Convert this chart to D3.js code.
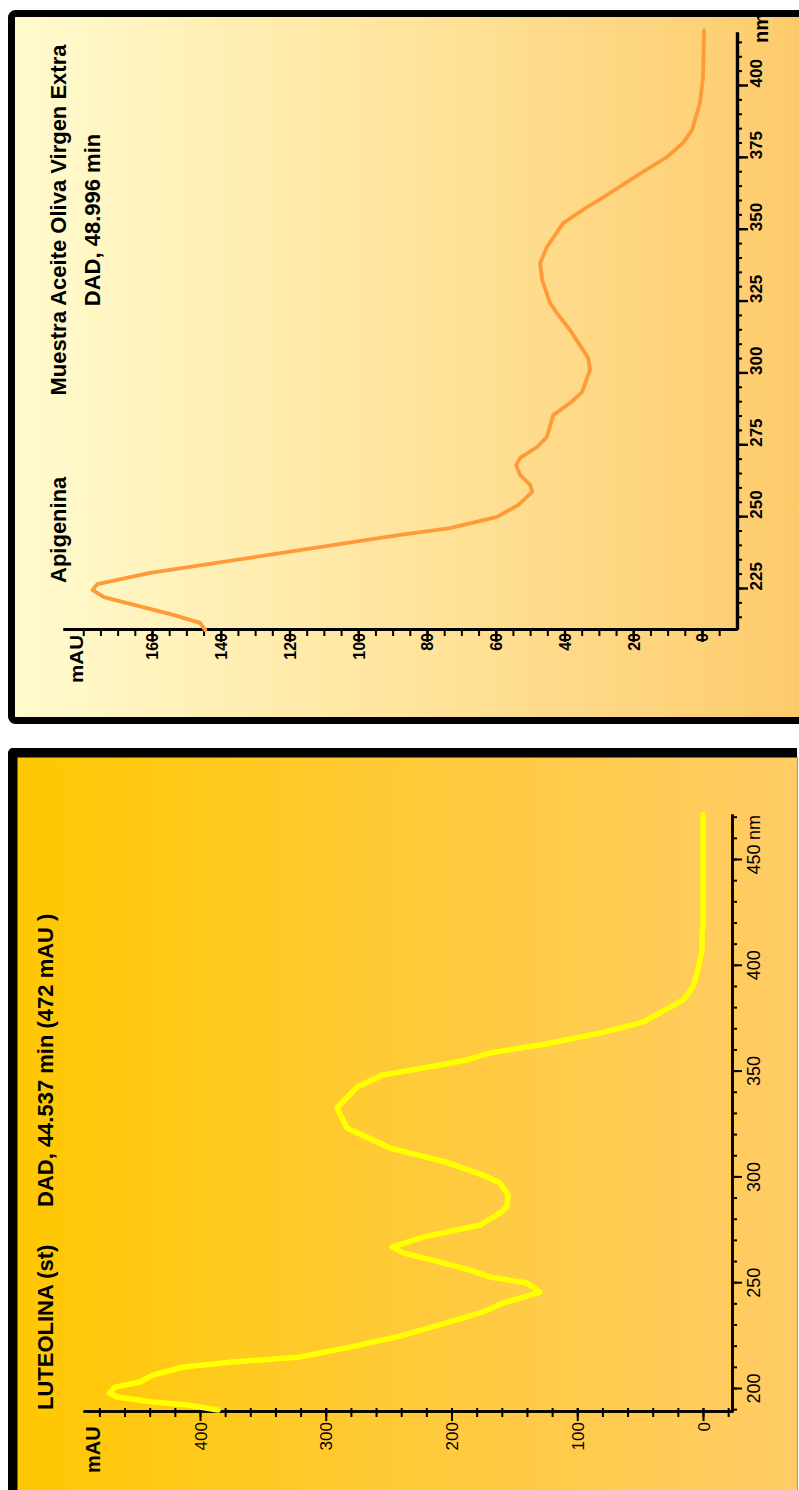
<!DOCTYPE html>
<html><head><meta charset="utf-8">
<script src="https://cdn.jsdelivr.net/npm/d3@7"></script>
<style>body{margin:0;background:#fff}svg{display:block}</style>
</head><body><svg id="c" width="799" height="1490"></svg>
<script>
// ---- Panel 1: Muestra Aceite Oliva Virgen Extra (Apigenina) ----
const apiTitle = "Muestra Aceite Oliva Virgen Extra";
const apiSub = "DAD, 48.996 min";
const apiLabel = "Apigenina";
const apiNm  = [210.7,213.2,216.0,222.2,224.7,226.7,230.6,243.8,246.2,250.1,254.2,258.8,261.2,264.7,268.1,270.6,274.4,277.9,285.5,289.7,293.5,301.2,305.4,315.1,321.0,324.5,332.5,338.4,344.0,352.3,357.9,362.1,370.1,375.3,380.2,384.7,394.1,403.1,419.4];
const apiMau = [144.5,146.0,153.8,174.0,177.3,175.9,160.5,87.8,73.3,59.6,53.5,49.4,50.0,52.9,54.1,52.9,48.0,45.1,43.3,38.4,34.9,32.6,33.1,38.4,42.2,44.2,46.5,47.1,45.1,40.4,33.4,27.6,17.2,10.2,5.5,2.9,0.6,-0.3,-0.6];
const apiNmTicks = [225,250,275,300,325,350,375,400];
const apiMauTicks = [0,20,40,60,80,100,120,140,160];

// ---- Panel 2: LUTEOLINA (st) ----
const lutTitle = "LUTEOLINA (st)";
const lutSub = "DAD, 44.537 min (472 mAU )";
const lutNm  = [190.1,192.4,193.9,196.2,198.1,200.9,203.3,206.6,210.4,212.8,215.1,219.8,225.0,231.7,236.4,240.6,245.8,250.1,252.9,256.2,260.0,264.3,267.1,271.8,277.5,283.2,286.0,291.7,297.4,301.1,307.3,313.9,323.3,332.8,342.7,348.4,353.1,355.5,358.8,362.6,368.2,373.4,383.8,390.0,398.0,407.5,415.5,418.3,471.5];
const lutMau = [385.7,410.3,437.4,466.0,472.0,467.6,447.7,437.4,413.5,373.8,320.5,280.7,241.0,201.2,175.0,159.0,129.6,140.0,169.4,185.3,209.1,238.6,247.3,222.7,177.3,161.4,155.9,155.1,161.4,175.0,205.0,248.9,283.1,291.1,275.1,254.5,209.1,187.7,169.4,129.6,81.9,47.7,15.9,8.0,4.0,0.8,0.8,0.0,0.0];
const lutNmTicks = [200,250,300,350,400,450];
const lutMauTicks = [0,100,200,300,400];

const FONT = "'Liberation Sans', Arial, sans-serif";
const svg = d3.select("#c");
svg.append("rect").attr("width",799).attr("height",1490).attr("fill","#fff");

const defs = svg.append("defs");
function grad(id, stops){
  const g = defs.append("linearGradient").attr("id",id).attr("x1",0).attr("x2",1).attr("y1",0).attr("y2",0);
  stops.forEach(s=>g.append("stop").attr("offset",s[0]).attr("stop-color",s[1]));
}
grad("g1",[[0,"#FFFBCF"],[0.5,"#FFE49C"],[1,"#FDCA6A"]]);
grad("g2",[[0,"#FFC800"],[0.5,"#FFCA38"],[1,"#FFCC66"]]);

// frames
svg.append("rect").attr("x",11.5).attr("y",13.5).attr("width",800).attr("height",707)
  .attr("rx",4).attr("fill","url(#g1)").attr("stroke","#000").attr("stroke-width",7);
svg.append("rect").attr("x",12.75).attr("y",752.75).attr("width",784.5).attr("height",760)
  .attr("fill","url(#g2)");
svg.append("path").attr("d","M797,752.75H12.75V1500").attr("fill","none")
  .attr("stroke","#000").attr("stroke-width",9.5).attr("stroke-linejoin","round");
svg.append("line").attr("x1",797.5).attr("x2",797.5).attr("y1",757).attr("y2",1490).attr("stroke","#999").attr("stroke-width",1);

// ===== Panel 1 =====
const g1 = svg.append("g").attr("transform","translate(0,630) rotate(-90)");
const x1 = d3.scaleLinear().domain([225,400]).range([41,544]);
x1.domain([x1.invert(0), x1.invert(597)]).range([0,597]);
const y1 = d3.scaleLinear().domain([0,160]).range([702,152]);
y1.domain([y1.invert(737), y1.invert(63)]).range([737,63]);

function styleAxis(sel, dw, tw){
  sel.select(".domain").attr("stroke","#000").attr("stroke-width",dw);
  sel.selectAll(".tick line").attr("stroke","#000").attr("stroke-width",tw);
}
// nm axis (minor + major)
const a1m = g1.append("g").attr("transform","translate(0,737)")
  .call(d3.axisBottom(x1).tickValues(d3.range(215,420,5)).tickSize(5).tickSizeOuter(0).tickFormat(""));
styleAxis(a1m,3.2,2);
const a1M = g1.append("g").attr("transform","translate(0,737)")
  .call(d3.axisBottom(x1).tickValues(apiNmTicks).tickSize(11).tickSizeOuter(0).tickFormat(d3.format("d")));
styleAxis(a1M,3.2,2.4);
a1M.selectAll(".tick text").attr("text-anchor","start").attr("x",-2).attr("y",25).attr("dy","0")
  .attr("font-family",FONT).attr("font-size",17).attr("font-weight","bold").attr("fill","#000");
// mAU axis
const a2m = g1.append("g")
  .call(d3.axisLeft(y1).tickValues(d3.range(-5,185,5)).tickSize(6).tickSizeOuter(0).tickFormat(""));
styleAxis(a2m,3.2,2);
const a2M = g1.append("g")
  .call(d3.axisLeft(y1).tickValues(apiMauTicks).tickSize(12).tickSizeOuter(0).tickFormat(d3.format("d")));
styleAxis(a2M,3.2,2.4);
a2M.selectAll(".tick text").attr("text-anchor","end").attr("x",-3).attr("dy","0.36em")
  .attr("font-family",FONT).attr("font-size",16).attr("font-weight","bold").attr("fill","#000");

g1.append("path").datum(apiNm.map((n,i)=>[n,apiMau[i]]))
  .attr("d", d3.line().x(d=>x1(d[0])).y(d=>y1(d[1])))
  .attr("fill","none").attr("stroke","#FF9A38").attr("stroke-width",3.8)
  .attr("stroke-linejoin","round").attr("stroke-linecap","round");

function txt(g, s, x, y, size, weight, anchor){
  return g.append("text").text(s).attr("x",x).attr("y",y).attr("font-family",FONT)
    .attr("font-size",size).attr("font-weight",weight).attr("text-anchor",anchor||"start").attr("fill","#000");
}
txt(g1,"nm",587,768,20,"bold");
txt(g1,"mAU",-53,83,19,"bold").attr("textLength",48).attr("lengthAdjust","spacingAndGlyphs");
txt(g1,apiLabel,47,66,22,"bold");
txt(g1,apiTitle,410,66,22,"bold","middle");
txt(g1,apiSub,410,100,22,"bold","middle");

// ===== Panel 2 =====
const g2 = svg.append("g").attr("transform","translate(0,1412) rotate(-90)");
const x2 = d3.scaleLinear().domain([200,450]).range([23,552]);
x2.domain([x2.invert(0), x2.invert(597)]).range([0,597]);
const y2 = d3.scaleLinear().domain([0,400]).range([703,200]);
y2.domain([y2.invert(733), y2.invert(83)]).range([733,83]);

const b1m = g2.append("g").attr("transform","translate(0,732)")
  .call(d3.axisBottom(x2).tickValues(d3.range(190,471,10)).tickSize(5).tickSizeOuter(0).tickFormat(""));
styleAxis(b1m,2.6,2);
const b1M = g2.append("g").attr("transform","translate(0,732)")
  .call(d3.axisBottom(x2).tickValues(lutNmTicks).tickSize(10).tickSizeOuter(0).tickFormat(d3.format("d")));
styleAxis(b1M,2.6,2);
b1M.selectAll(".tick text").attr("text-anchor","middle").attr("y",28).attr("dy","0")
  .attr("font-family",FONT).attr("font-size",18).attr("fill","#000");
txt(g2,"nm",x2(450)+20,760,18,"normal");

const b2m = g2.append("g")
  .call(d3.axisLeft(y2).tickValues(d3.range(-20,481,20)).tickSize(5).tickSizeOuter(0).tickFormat(""));
styleAxis(b2m,2.6,2);
b2m.selectAll(".tick line").attr("x1",4);
const b2M = g2.append("g")
  .call(d3.axisLeft(y2).tickValues(lutMauTicks).tickSize(9).tickSizeOuter(0).tickFormat(d3.format("d")));
styleAxis(b2M,2.6,2);
b2M.selectAll(".tick line").attr("x1",4);
b2M.selectAll(".tick text").attr("text-anchor","end").attr("x",-10).attr("dy","0.36em")
  .attr("font-family",FONT).attr("font-size",17).attr("fill","#000");

g2.append("path").datum(lutNm.map((n,i)=>[n,lutMau[i]]))
  .attr("d", d3.line().x(d=>x2(d[0])).y(d=>y2(d[1])))
  .attr("fill","none").attr("stroke","#FFFF00").attr("stroke-width",5.5)
  .attr("stroke-linejoin","round").attr("stroke-linecap","round");

txt(g2,"mAU",-61,100,20,"bold");
txt(g2,lutTitle,2,53,22,"bold");
txt(g2,lutSub,205,53,22,"bold");
</script>
</body></html>
